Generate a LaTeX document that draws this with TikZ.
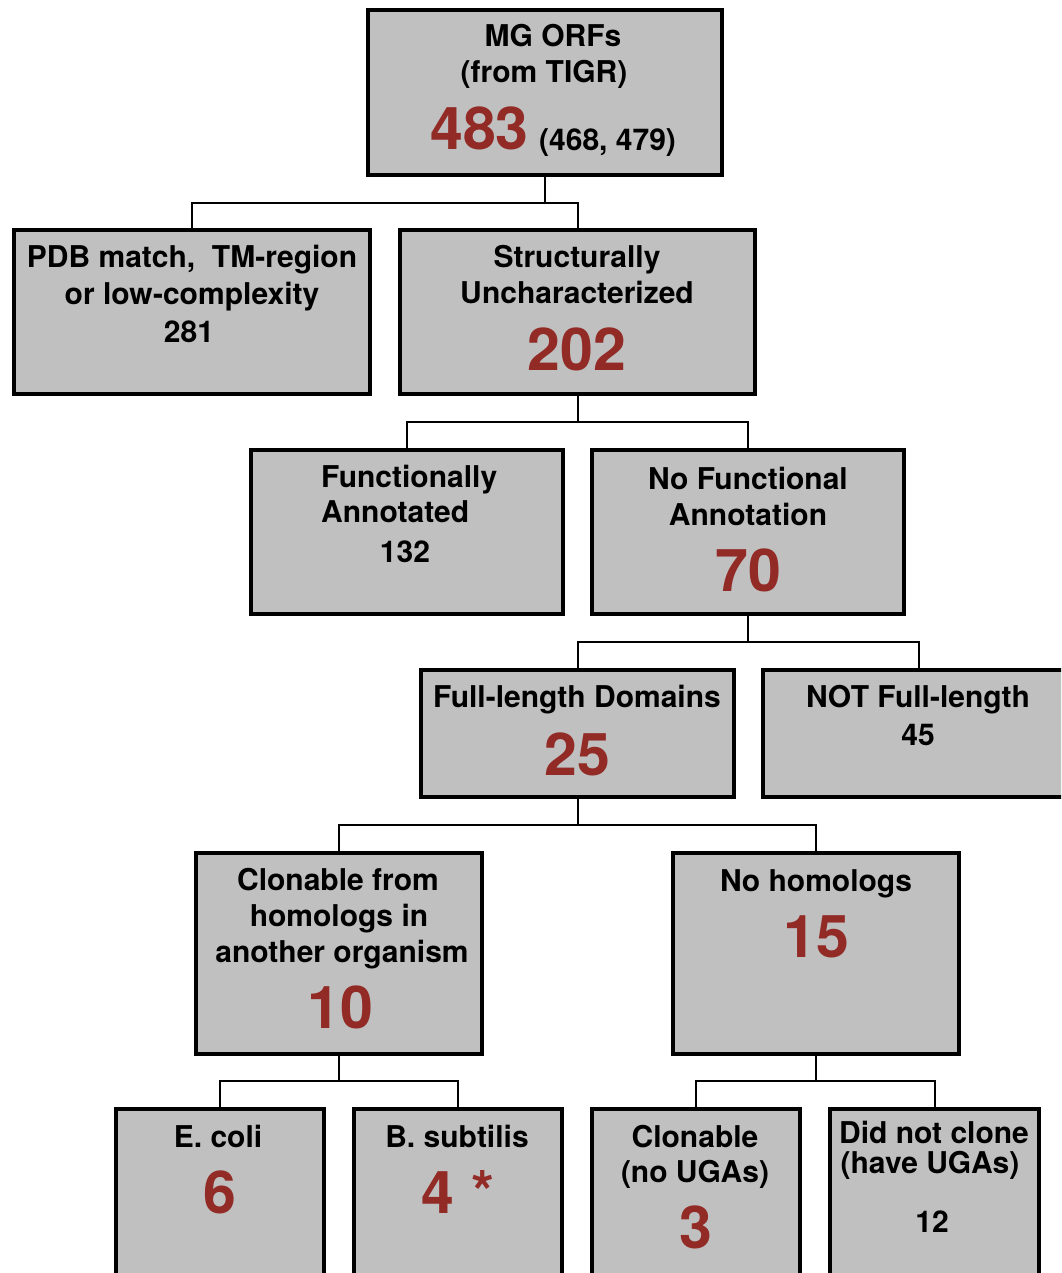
\documentclass[tikz,border=0pt]{standalone}
\usepackage{fontspec}
\setmainfont{TeX Gyre Heros}
\definecolor{boxgray}{RGB}{192,192,192}
\definecolor{numred}{RGB}{146,42,38}
\tikzset{
  gbox/.style={draw=black, fill=boxgray, line width=3.5pt, rectangle, inner sep=0pt},
  conn/.style={draw=black, line width=2pt},
  lbl/.style={anchor=base, inner sep=0pt, font=\fontsize{30}{36}\selectfont\bfseries},
  lblw/.style={anchor=base west, inner sep=0pt, font=\fontsize{30}{36}\selectfont\bfseries},
  big/.style={anchor=base, inner sep=0pt, text=numred, font=\fontsize{59}{60}\selectfont\bfseries},
}
\begin{document}
\begin{tikzpicture}[x=1pt, y=-1pt]
\useasboundingbox (0,0) rectangle (1061,1273);
\clip (0,0) rectangle (1061,1273);
\fill[white] (0,0) rectangle (1061,1273);
% boxes
\node[gbox, minimum width=354, minimum height=165] (mg)  at (545,92.5) {};
\node[gbox, minimum width=356, minimum height=164] (pdb) at (192,312) {};
\node[gbox, minimum width=355, minimum height=164] (su)  at (577.5,312) {};
\node[gbox, minimum width=312, minimum height=164] (fa)  at (407,532) {};
\node[gbox, minimum width=312, minimum height=164] (nfa) at (748,532) {};
\node[gbox, minimum width=313, minimum height=127] (fl)  at (577.5,733.5) {};
\node[gbox, minimum width=312, minimum height=127] (nfl) at (919,733.5) {};
\node[gbox, minimum width=286, minimum height=201] (cf)  at (339,953.5) {};
\node[gbox, minimum width=286, minimum height=201] (nh)  at (816,953.5) {};
\node[gbox, minimum width=208, minimum height=191] (ec)  at (220,1204.5) {};
\node[gbox, minimum width=208, minimum height=191] (bs)  at (458,1204.5) {};
\node[gbox, minimum width=208, minimum height=191] (cl)  at (696,1204.5) {};
\node[gbox, minimum width=209, minimum height=191] (dn)  at (934.5,1204.5) {};
% connectors
\draw[conn] (mg.south) -- ++(0,26) coordinate (j1);
\draw[conn] (pdb.north) |- (j1) -| (su.north);
\draw[conn] (su.south) -- ++(0,26) coordinate (j2);
\draw[conn] (fa.north) |- (j2) -| (nfa.north);
\draw[conn] (nfa.south) -- ++(0,26) coordinate (j3);
\draw[conn] (fl.north) |- (j3) -| (nfl.north);
\draw[conn] (fl.south) -- ++(0,26) coordinate (j4);
\draw[conn] (cf.north) |- (j4) -| (nh.north);
\draw[conn] (cf.south) -- ++(0,25) coordinate (j5);
\draw[conn] (ec.north) |- (j5) -| (bs.north);
\draw[conn] (nh.south) -- ++(0,25) coordinate (j6);
\draw[conn] (cl.north) |- (j6) -| (dn.north);
% texts
\node[lbl] (t1a) at (553,47) {MG ORFs};
\node[lbl] (t1b) at (544,83) {(from TIGR)};
\node[big] (t1c) at (479.5,150) {483};
\node[lblw] (t1d) at (539,151) {(468, 479)};
\node[lbl] (t2a) at (192,267) {PDB match,\ \ TM-region};
\node[lbl] (t2b) at (192,304) {or low-complexity};
\node[lbl] (t2c) at (189,342) {281};
\node[lbl] (t3a) at (577,267) {Structurally};
\node[lbl] (t3b) at (577,303) {Uncharacterized};
\node[big] (t3c) at (577,370) {202};
\node[lblw] (t4a) at (321,487) {Functionally};
\node[lblw] (t4b) at (321,522) {Annotated};
\node[lbl] (t4c) at (405,562) {132};
\node[lbl] (t5a) at (748,489) {No Functional};
\node[lbl] (t5b) at (748,525) {Annotation};
\node[big] (t5c) at (748,591) {70};
\node[lbl] (t6a) at (577,707) {Full-length Domains};
\node[big] (t6b) at (577,775) {25};
\node[lbl] (t7a) at (918,707) {NOT Full-length};
\node[lbl] (t7b) at (918,745) {45};
\node[lbl] (t8a) at (338,890) {Clonable from};
\node[lbl] (t8b) at (339,926) {homologs in};
\node[lbl] (t8c) at (342,962) {another organism};
\node[big] (t8d) at (340,1028) {10};
\node[lbl] (t9a) at (816,891) {No homologs};
\node[big] (t9b) at (816,957) {15};
\node[lbl] (t10a) at (218,1147) {E. coli};
\node[big] (t10b) at (220,1213) {6};
\node[lbl] (t11a) at (457,1147) {B. subtilis};
\node[big] (t11b) at (458,1213) {4 *};
\node[lbl] (t12a) at (695,1147) {Clonable};
\node[lbl] (t12b) at (695,1182) {(no UGAs)};
\node[big] (t12c) at (696,1248) {3};
\node[lbl] (t13a) at (934,1143) {Did not clone};
\node[lbl] (t13b) at (930,1173) {(have UGAs)};
\node[lbl] (t13c) at (932,1232) {12};
\end{tikzpicture}
\end{document}
